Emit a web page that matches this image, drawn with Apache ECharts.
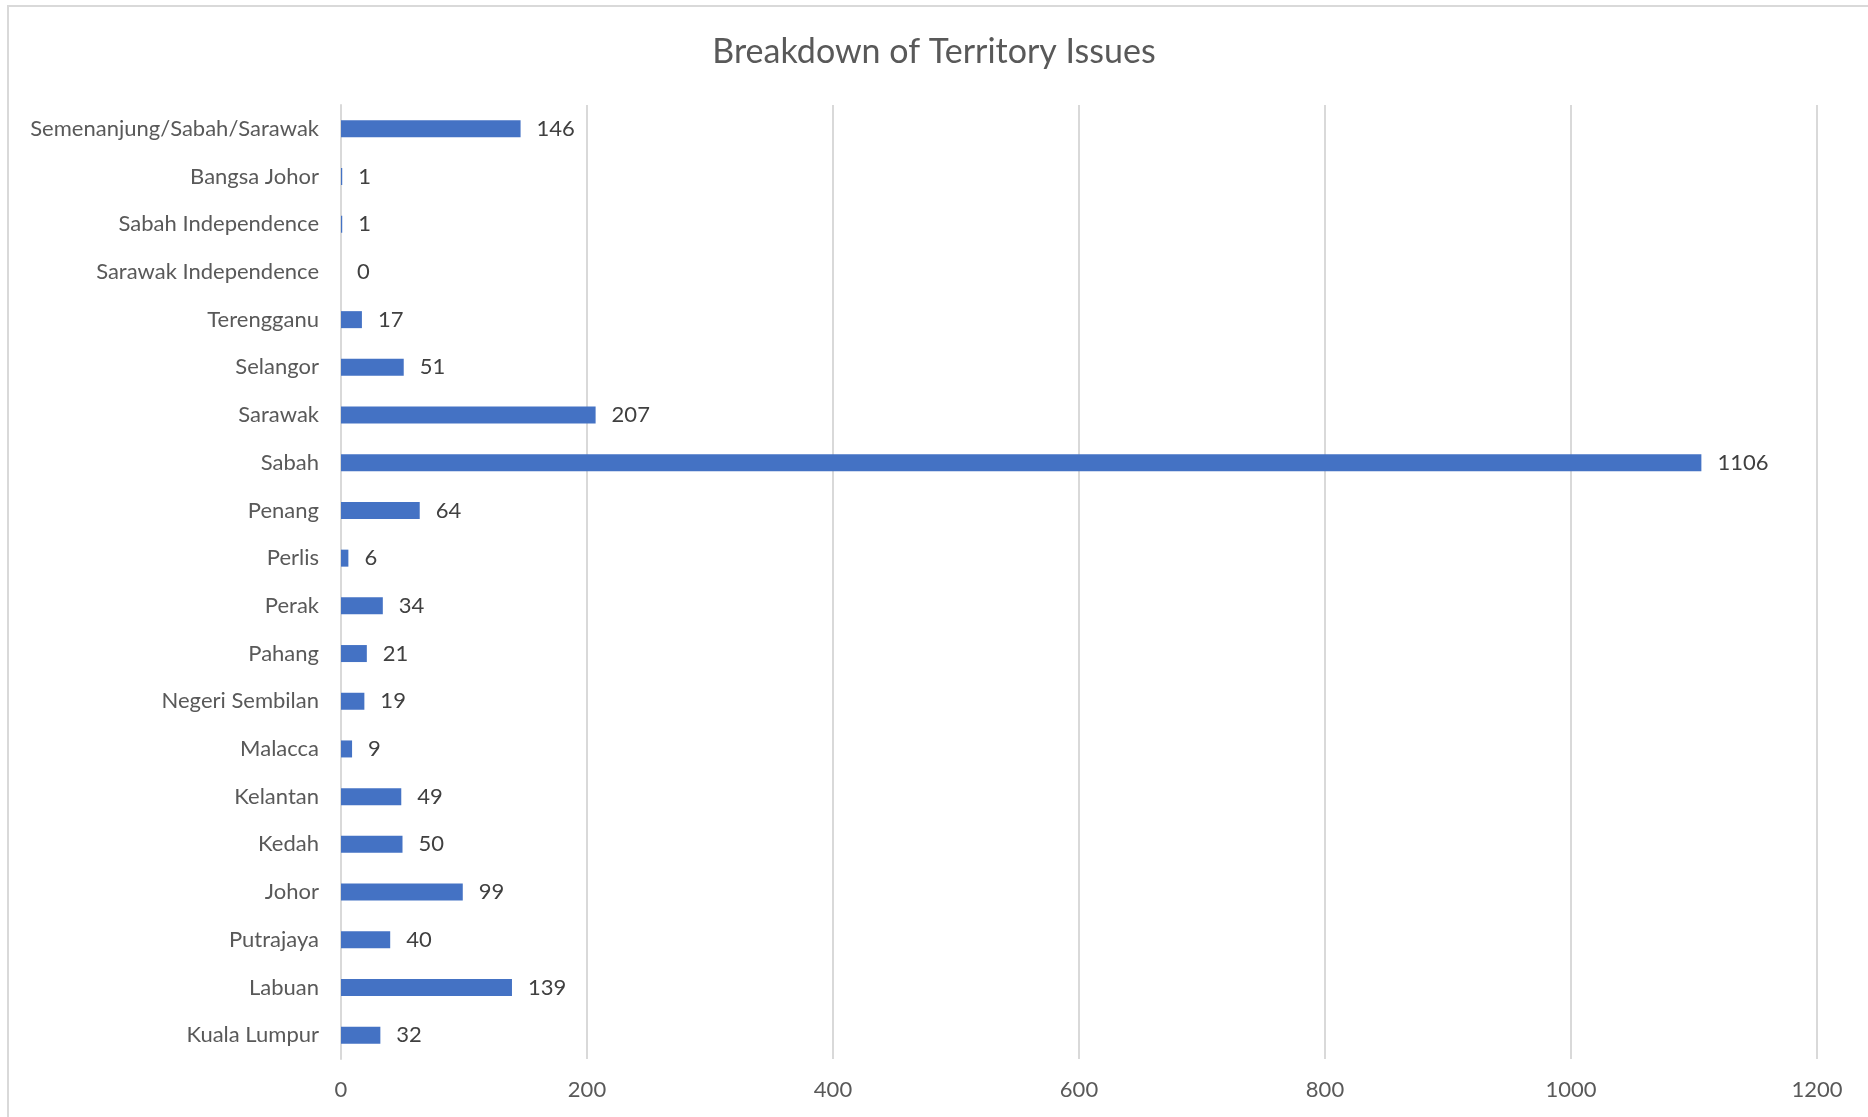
<!DOCTYPE html>
<html>
<head>
<meta charset="utf-8">
<script src="https://cdn.jsdelivr.net/npm/echarts@6/dist/echarts.min.js"></script>
<style>
  html, body { margin: 0; padding: 0; background: #fff; }
  #chart { width: 1868px; height: 1117px; }
</style>
</head>
<body>
<div id="chart"></div>
<script>
// data, top to bottom as in the picture
const territories = [
  "Semenanjung/Sabah/Sarawak", "Bangsa Johor", "Sabah Independence", "Sarawak Independence",
  "Terengganu", "Selangor", "Sarawak", "Sabah", "Penang", "Perlis", "Perak", "Pahang",
  "Negeri Sembilan", "Malacca", "Kelantan", "Kedah", "Johor", "Putrajaya", "Labuan", "Kuala Lumpur"
];
const issues = [146, 1, 1, 0, 17, 51, 207, 1106, 64, 6, 34, 21, 19, 9, 49, 50, 99, 40, 139, 32];
const xTicks = [0, 200, 400, 600, 800, 1000, 1200];

const font = "Lato, 'Noto Sans', sans-serif";
const chart = echarts.init(document.getElementById("chart"));

chart.setOption({
  animation: false,
  textStyle: { fontFamily: font },
  title: {
    text: "Breakdown of Territory Issues",
    left: "center",
    top: 30,
    textStyle: { fontSize: 34, fontWeight: "normal", color: "#595959", fontFamily: font },
  },
  graphic: [
    {
      type: "rect",
      shape: { x: 8, y: 6, width: 1900, height: 1200 },
      style: { fill: "none", stroke: "#d9d9d9", lineWidth: 2 },
      silent: true,
      z: -1,
    },
  ],
  grid: { left: 341, right: 51, top: 105, bottom: 58 },
  xAxis: {
    type: "value",
    min: xTicks[0],
    max: xTicks[xTicks.length - 1],
    interval: 200,
    axisLine: { show: false },
    axisTick: { show: false },
    axisLabel: { color: "#595959", fontSize: 22, margin: 20, formatter: (v) => String(v) },
    splitLine: { lineStyle: { color: "#d9d9d9", width: 2 } },
  },
  yAxis: {
    type: "category",
    inverse: true,
    data: territories,
    axisLine: { lineStyle: { color: "#d9d9d9", width: 2 } },
    axisTick: { show: false },
    axisLabel: { color: "#595959", fontSize: 22, margin: 22 },
  },
  series: [
    {
      type: "bar",
      data: issues,
      barWidth: 17,
      itemStyle: { color: "#4472c4" },
      label: {
        show: true,
        position: "right",
        distance: 16,
        color: "#404040",
        fontSize: 22,
      },
    },
  ],
});
</script>
</body>
</html>
